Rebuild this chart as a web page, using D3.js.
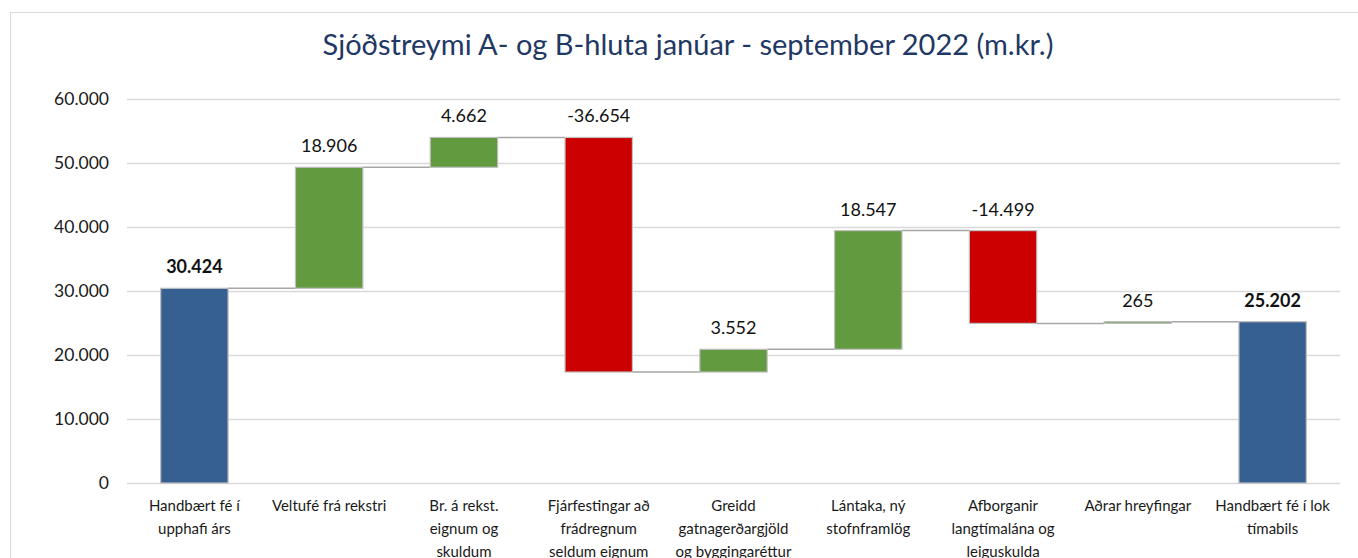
<!DOCTYPE html>
<html>
<head>
<meta charset="utf-8">
<script src="https://cdn.jsdelivr.net/npm/d3@7"></script>
<style>
  html, body { margin: 0; padding: 0; background: #fff; }
  svg { display: block; font-family: Lato, 'Open Sans', sans-serif; }
</style>
</head>
<body>
<svg id="chart" width="1358" height="558"></svg>
<script>
const categories = [
  ['Handbært fé í', 'upphafi árs'],
  ['Veltufé frá rekstri'],
  ['Br. á rekst.', 'eignum og', 'skuldum'],
  ['Fjárfestingar að', 'frádregnum', 'seldum eignum'],
  ['Greidd', 'gatnagerðargjöld', 'og byggingaréttur'],
  ['Lántaka, ný', 'stofnframlög'],
  ['Afborganir', 'langtímalána og', 'leiguskulda'],
  ['Aðrar hreyfingar'],
  ['Handbært fé í lok', 'tímabils'],
]
const changes = [30424, 18906, 4662, -36654, 3552, 18547, -14499, 265, 25202]
const kinds = ['total', 'up', 'up', 'down', 'up', 'up', 'down', 'up', 'total']
const yTicks = [0, 10000, 20000, 30000, 40000, 50000, 60000]
const title = 'Sjóðstreymi A- og B-hluta janúar - september 2022 (m.kr.)'

const colors = { total: '#376092', up: '#629a3f', down: '#cc0000' }

const locale = d3.formatLocale({
  decimal: ',', thousands: '.', grouping: [3], currency: ['', ''], minus: '-',
})
const fmt = locale.format(',d')

// running totals -> bar start / end
let running = 0
const bars = changes.map((v, i) => {
  let start, end
  if (kinds[i] === 'total') {
    start = 0
    end = v
    running = v
  } else {
    start = running
    end = running + v
    running = end
  }
  return { i, v, start, end, kind: kinds[i] }
})

const svg = d3.select('#chart')

svg.append('rect').attr('x', 10.5).attr('y', 12.5)
  .attr('width', 1400).attr('height', 600)
  .attr('fill', '#fff').attr('stroke', '#d9d9d9')

svg.append('text').attr('x', 688).attr('y', 55)
  .attr('text-anchor', 'middle').attr('fill', '#1f3864')
  .style('font-size', '29px')
  .text(title)

const x = d3.scaleBand().domain(d3.range(categories.length))
  .range([127, 1340]).paddingInner(0.5).paddingOuter(0.25)
const y = d3.scaleLinear().domain([0, 60000]).range([483, 99])

// gridlines + tick labels
const yAxis = d3.axisLeft(y).tickValues(yTicks).tickFormat(fmt)
  .tickSize(-(1340 - 127)).tickPadding(18)
const yG = svg.append('g').attr('transform', 'translate(127,0)').call(yAxis)
yG.select('.domain').remove()
yG.selectAll('.tick line').attr('stroke', '#d9d9d9').attr('stroke-width', 1.3)
yG.selectAll('.tick text').attr('fill', '#1a1a1a').style('font-size', '17.5px')
  .style('font-family', 'Lato, sans-serif')

// connectors
const conn = bars.slice(0, -1).map((b, k) => ({ from: b, to: bars[k + 1] }))
svg.append('g').selectAll('line').data(conn).join('line')
  .attr('x1', d => x(d.from.i) + x.bandwidth())
  .attr('x2', d => x(d.to.i))
  .attr('y1', d => y(d.from.end))
  .attr('y2', d => y(d.from.end))
  .attr('stroke', '#a6a6a6').attr('stroke-width', 1.5)

// bars
svg.append('g').selectAll('rect').data(bars).join('rect')
  .attr('x', d => x(d.i))
  .attr('width', x.bandwidth())
  .attr('y', d => y(Math.max(d.start, d.end)))
  .attr('height', d => Math.abs(y(d.start) - y(d.end)))
  .attr('fill', d => colors[d.kind])
  .attr('stroke', '#bfbfbf').attr('stroke-width', 1.2)

// value labels
svg.append('g').selectAll('text').data(bars).join('text')
  .attr('x', d => x(d.i) + x.bandwidth() / 2)
  .attr('y', d => y(Math.max(d.start, d.end)) - 15)
  .attr('text-anchor', 'middle').attr('fill', '#111')
  .style('font-size', '18px')
  .style('font-weight', d => d.kind === 'total' ? 'bold' : 'normal')
  .text(d => fmt(d.v))

// category labels
const catG = svg.append('g').selectAll('text').data(categories).join('text')
  .attr('x', (d, i) => x(i) + x.bandwidth() / 2)
  .attr('y', 511)
  .attr('text-anchor', 'middle').attr('fill', '#1a1a1a')
  .style('font-size', '15px')
catG.selectAll('tspan').data(d => d).join('tspan')
  .attr('x', function () { return this.parentNode.getAttribute('x') })
  .attr('dy', (d, k) => k === 0 ? 0 : 23)
  .text(d => d)
</script>
</body>
</html>
